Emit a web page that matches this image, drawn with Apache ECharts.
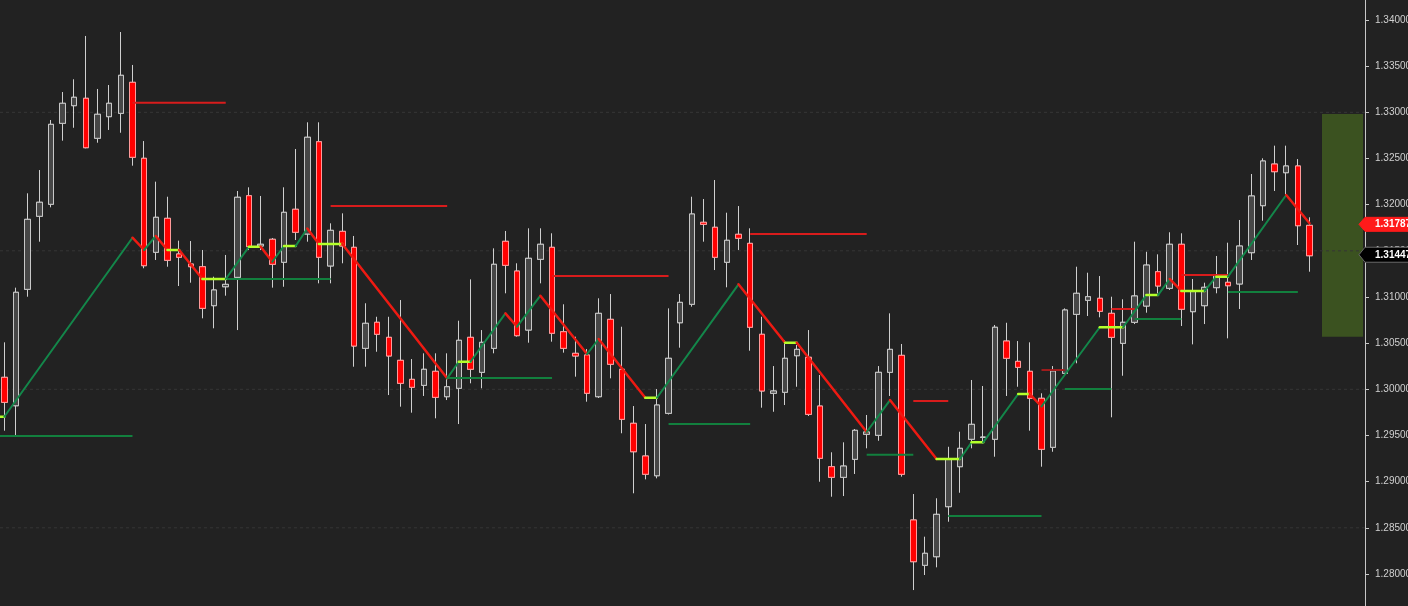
<!DOCTYPE html>
<html><head><meta charset="utf-8">
<script src="https://cdn.jsdelivr.net/npm/echarts@6/dist/echarts.min.js"></script>
<style>html,body{margin:0;padding:0;background:#222222;overflow:hidden;width:1408px;height:606px;}#c{position:absolute;left:0;top:0;width:1408px;height:606px;}</style>
</head><body><div id="c"></div>
<script>
// ---- candle data (index 0..112) ----
const opens = [
1.30130,1.29822,1.31083,1.31874,1.32004,1.32881,1.33072,1.33152,1.32719,1.32953,
1.32989,1.33325,1.32502,1.31484,1.31852,1.31466,1.31357,1.31328,1.30906,1.31111,
1.31213,1.32097,1.31552,1.31625,1.31376,1.31950,1.31682,1.32682,1.31336,1.31711,
1.31538,1.30444,1.30726,1.30563,1.30314,1.30108,1.30043,1.30195,1.29920,1.30011,
1.30563,1.30184,1.30444,1.31603,1.31281,1.30642,1.31408,1.31538,1.30624,1.30390,
1.30372,1.29920,1.30758,1.30217,1.29632,1.29278,1.29064,1.29740,1.30721,1.30921,
1.31809,1.31755,1.31376,1.31679,1.31581,1.30596,1.29957,1.29968,1.30364,1.30347,
1.29819,1.29162,1.29047,1.29242,1.29513,1.29502,1.30184,1.30368,1.28585,1.28094,
1.28187,1.28729,1.29162,1.29459,1.29478,1.29459,1.30523,1.30303,1.30195,1.29903,
1.29372,1.30173,1.30812,1.30964,1.30986,1.30823,1.30498,1.30726,1.30902,1.31274,
1.31094,1.31571,1.30841,1.30906,1.31101,1.31159,1.31141,1.31480,1.31989,1.32440,
1.32346,1.32419,1.31776];
const closes = [
1.29859,1.31051,1.31841,1.32026,1.32870,1.33098,1.33163,1.32617,1.32979,1.33098,
1.33401,1.32513,1.31339,1.31863,1.31397,1.31430,1.31328,1.30877,1.31076,1.31137,
1.32080,1.31545,1.31571,1.31354,1.31917,1.31701,1.32730,1.31430,1.31722,1.31552,
1.30469,1.30715,1.30596,1.30361,1.30065,1.30022,1.30217,1.29913,1.30028,1.30531,
1.30217,1.30509,1.31354,1.31343,1.30581,1.31419,1.31571,1.30607,1.30444,1.30361,
1.29957,1.30823,1.30271,1.29675,1.29324,1.29080,1.29830,1.30336,1.30942,1.31899,
1.31787,1.31430,1.31614,1.31636,1.30672,1.29982,1.29982,1.30336,1.30433,1.29729,
1.29253,1.29047,1.29169,1.29556,1.29538,1.30184,1.30433,1.29080,1.28133,1.28224,
1.28646,1.29242,1.29361,1.29621,1.29483,1.30672,1.30336,1.30238,1.29903,1.29350,
1.30198,1.30859,1.31040,1.31003,1.30845,1.30563,1.30726,1.31011,1.31346,1.31119,
1.31571,1.30867,1.31068,1.31105,1.31231,1.31122,1.31552,1.32094,1.32473,1.32357,
1.32419,1.31772,1.31447];
const lows = [
1.29552,1.29505,1.31003,1.31599,1.31971,1.32693,1.32833,1.32610,1.32671,1.32809,
1.32779,1.32422,1.31311,1.31401,1.31328,1.31119,1.31155,1.30769,1.30661,1.31014,
1.30642,1.31509,1.31509,1.31101,1.31111,1.31617,1.31599,1.31148,1.31148,1.31365,
1.30245,1.30245,1.30407,1.29938,1.29812,1.29747,1.29928,1.29686,1.29884,1.29624,
1.30065,1.30011,1.30390,1.31040,1.30570,1.30505,1.31148,1.30516,1.30397,1.30137,
1.29866,1.29906,1.30119,1.29524,1.28874,1.29025,1.29036,1.29727,1.30451,1.30895,
1.31599,1.31292,1.31105,1.31509,1.30418,1.29801,1.29757,1.29830,1.30028,1.29711,
1.28999,1.28837,1.28844,1.29083,1.29361,1.29443,1.29928,1.29054,1.27826,1.27989,
1.28072,1.28566,1.28880,1.29361,1.29415,1.29270,1.29928,1.30028,1.29552,1.29162,
1.29324,1.30155,1.30282,1.30794,1.30780,1.29697,1.30147,1.30707,1.30830,1.31040,
1.31076,1.30686,1.30487,1.30707,1.31040,1.30552,1.30870,1.31401,1.31826,1.32148,
1.32105,1.31563,1.31274];
const highs = [
1.30509,1.31101,1.32123,1.32375,1.32917,1.33220,1.33358,1.33827,1.33253,1.33296,
1.33870,1.33513,1.32689,1.32249,1.32086,1.31610,1.31606,1.31509,1.31220,1.31455,
1.32148,1.32188,1.32094,1.31639,1.32188,1.32603,1.32892,1.32892,1.31798,1.31906,
1.31661,1.30932,1.30786,1.30786,1.30967,1.30328,1.30390,1.30390,1.30390,1.30743,
1.31191,1.30642,1.31527,1.31715,1.31365,1.31744,1.31744,1.31690,1.30921,1.30570,
1.30437,1.30986,1.31032,1.30678,1.29819,1.29624,1.30003,1.30877,1.31032,1.32086,
1.32061,1.32267,1.31913,1.31985,1.31744,1.30786,1.30252,1.30534,1.30480,1.30642,
1.30155,1.29318,1.29426,1.29570,1.29722,1.30252,1.30823,1.30491,1.28866,1.28404,
1.28820,1.29378,1.29541,1.30101,1.30036,1.30697,1.30721,1.30523,1.30509,1.29957,
1.30252,1.30877,1.31328,1.31263,1.31227,1.31003,1.30975,1.31599,1.31490,1.31462,
1.31701,1.31690,1.31195,1.31155,1.31444,1.31588,1.31834,1.32332,1.32502,1.32639,
1.32639,1.32494,1.31863];

// ---- zigzag pivots ----
const zigIdx = [-1,0,11,12,13,14,15,17,19,21,22,23,24,25,26,27,29,38,39,40,43,44,46,50,51,55,56,63,67,68,74,76,80,82,83,84,87,88,89,94,96,98,99,100,101,103,104,105,110,112];
const zigPrice = [1.29703,1.29703,1.31642,1.31509,1.31661,1.31509,1.31509,1.31195,1.31195,1.31545,
1.31545,1.31382,1.31552,1.31552,1.31742,1.31574,1.31574,1.30119,1.30299,1.30299,
1.30823,1.30678,1.31014,1.30382,1.30545,1.29909,1.29909,1.31137,1.30505,1.30505,
1.29538,1.29884,1.29245,1.29245,1.29426,1.29426,1.29949,1.29949,1.29814,1.30672,
1.30672,1.31021,1.31021,1.31195,1.31065,1.31065,1.31220,1.31220,1.32105,1.31798];

// ---- resistance / support levels ----
const resStart = [11,28,47,64,78,89,95,101];
const resEnd   = [19,38,57,74,81,91,97,105];
const resPrice = [1.33104,1.31985,1.31227,1.31682,1.29873,1.30209,1.30870,1.31238];
const supStart = [-1,19,38,57,74,81,91,97,105];
const supEnd   = [11,28,47,64,78,89,95,101,111];
const supPrice = [1.29494,1.31195,1.30123,1.29624,1.29292,1.28628,1.30003,1.30761,1.31054];

// ---- axis / extras ----
const yTicks = [1.280,1.285,1.290,1.295,1.300,1.305,1.310,1.315,1.320,1.325,1.330,1.335,1.340];
const gridPrices = [1.330,1.315,1.300,1.285];
const zoneX = [113.07,116.59];
const zonePrice = [1.32982,1.30570];
const tagValues = [1.31787,1.31447];
const tagLabels = ['1.31787','1.31447'];

const X_MIN = -0.369, X_MAX = 116.76, Y_MIN = 1.276533, Y_MAX = 1.342166;

const chart = echarts.init(document.getElementById('c'), null, {renderer:'canvas', width:1408, height:606});
const candleData = opens.map((o,i)=>[i,o,closes[i],lows[i],highs[i]]);
const bodyData = opens.map((o,i)=>[i,o,closes[i],Math.min(o,closes[i]),Math.max(o,closes[i])]);

function seg(x1,y1,x2,y2,color,width,z,cap,dash){
  return {type:'line', data:[[x1,y1],[x2,y2]], showSymbol:false, symbol:'none', silent:true,
    lineStyle:{color:color,width:width,cap:cap||'butt',type:dash||'solid'}, z:z, animation:false, clip:true};
}
const series = [];
gridPrices.forEach(p=>series.push(seg(X_MIN,p,X_MAX,p,'#363636',1,0,'butt',[3,3])));
series.push({type:'custom', silent:true, z:0, data:[[zoneX[0],zoneX[1],zonePrice[0],zonePrice[1]]],
  renderItem:function(params,api){
    const a = api.coord([api.value(0),api.value(2)]);
    const b = api.coord([api.value(1),api.value(3)]);
    return {type:'rect', shape:{x:a[0],y:a[1],width:b[0]-a[0],height:b[1]-a[1]}, style:{fill:'#3b5220'}};
  }});
series.push({type:'candlestick', data:candleData, encode:{x:0,y:[1,2,3,4]}, barWidth:6, silent:true, z:2,
  itemStyle:{color:'#474747',color0:'#ff0000',borderColor:'#cfcfcf',borderColor0:'#cfcfcf',borderColorDoji:'#cfcfcf',borderWidth:1}});
series.push({type:'candlestick', data:bodyData, encode:{x:0,y:[1,2,3,4]}, barWidth:6, silent:true, z:3,
  itemStyle:{color:'#474747',color0:'#ff0000',borderColor:'#c8c8c8',borderColor0:'#ff9a9a',borderColorDoji:'#c8c8c8',borderWidth:1}});
resStart.forEach((s,k)=>series.push(seg(s,resPrice[k],resEnd[k],resPrice[k], k===5?'#a01c1c':'#d81c1c',2,4)));
supStart.forEach((s,k)=>series.push(seg(s,supPrice[k],supEnd[k],supPrice[k],'#12803e',2,4)));
for(let k=0;k<zigIdx.length-1;k++){
  const p1=zigPrice[k], p2=zigPrice[k+1];
  let col, w;
  if(p2>p1){col='#13874a';w=2;} else if(p2<p1){col='#ee1a12';w=2.5;} else {col='#b4ff2a';w=2.5;}
  series.push(seg(zigIdx[k],p1,zigIdx[k+1],p2,col,w,5,'round'));
}

chart.setOption({
  backgroundColor:'#222222',
  animation:false,
  grid:{left:0,right:43,top:0,bottom:0,containLabel:false,outerBoundsMode:'none'},
  xAxis:{type:'value',min:X_MIN,max:X_MAX,show:false,splitLine:{show:false}},
  yAxis:{type:'value',position:'right',min:Y_MIN,max:Y_MAX,scale:true,
    axisLine:{show:true,onZero:false,lineStyle:{color:'#c8c8c8',width:1}},
    axisTick:{show:true,length:4,lineStyle:{color:'#c8c8c8'},customValues:yTicks},
    axisLabel:{color:'#d0d0d0',fontSize:10,fontFamily:'Liberation Sans, Arial',margin:10,customValues:yTicks,
      formatter:function(v){return v.toFixed(5);}},
    splitLine:{show:false}},
  series:series
});

const tagFill = ['#ff1a1a','#000000'];
const tagStroke = ['#ff1a1a','#6a6a6a'];
const gfx = [];
tagValues.forEach((v,k)=>{
  const y = chart.convertToPixel({yAxisIndex:0}, v);
  const x0 = chart.convertToPixel({xAxisIndex:0}, X_MAX);
  const up = k===0 ? 7 : 8.5, dn = k===0 ? 7 : 6.5;
  gfx.push({type:'polygon', z:100, silent:true,
    shape:{points:[[x0-6,y-(up-dn)/2],[x0,y-up],[1410,y-up],[1410,y+dn],[x0,y+dn]]},
    style:{fill:tagFill[k],stroke:tagStroke[k],lineWidth:1}});
  gfx.push({type:'text', z:101, silent:true, x:x0+10, y:y,
    style:{text:tagLabels[k],fill:'#ffffff',font:'bold 10px "Liberation Sans", Arial',verticalAlign:'middle',textVerticalAlign:'middle'}});
});
chart.setOption({graphic:{elements:gfx}});
</script>
</body></html>
